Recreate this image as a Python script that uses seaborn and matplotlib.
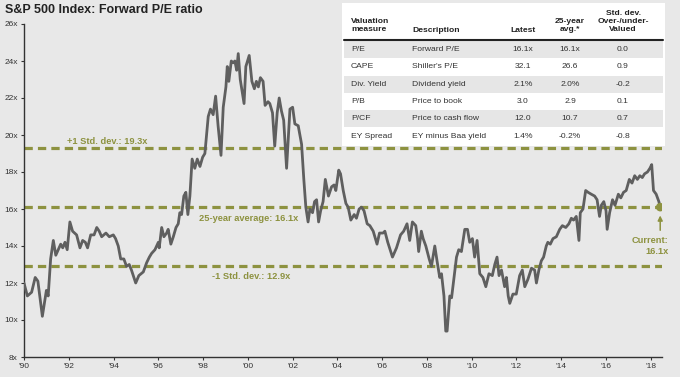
import matplotlib
matplotlib.use('Agg')
import matplotlib.pyplot as plt
import pandas as pd
import seaborn as sns
from matplotlib.patches import Rectangle

# ---------------- data ----------------
years = [1990.00, 1990.15, 1990.34, 1990.50, 1990.62, 1990.82, 1991.00, 1991.08, 1991.19, 1991.31,
         1991.42, 1991.53, 1991.64, 1991.73, 1991.83, 1991.93, 1992.05, 1992.17, 1992.35, 1992.50,
         1992.62, 1992.74, 1992.84, 1992.98, 1993.13, 1993.25, 1993.36, 1993.47, 1993.66, 1993.81,
         1993.99, 1994.09, 1994.21, 1994.32, 1994.46, 1994.58, 1994.70, 1994.80, 1994.99, 1995.13,
         1995.33, 1995.48, 1995.60, 1995.70, 1995.85, 1996.00, 1996.04, 1996.15, 1996.25, 1996.37,
         1996.44, 1996.56, 1996.67, 1996.79, 1996.89, 1996.96, 1997.04, 1997.14, 1997.23, 1997.32,
         1997.41, 1997.51, 1997.63, 1997.74, 1997.86, 1997.98, 1998.08, 1998.23, 1998.33, 1998.45,
         1998.56, 1998.67, 1998.80, 1998.90, 1999.02, 1999.08, 1999.15, 1999.26, 1999.34, 1999.42,
         1999.50, 1999.57, 1999.66, 1999.83, 1999.91, 2000.06, 2000.18, 2000.29, 2000.38, 2000.47,
         2000.56, 2000.68, 2000.77, 2000.90, 2000.98, 2001.10, 2001.20, 2001.31, 2001.40, 2001.50,
         2001.60, 2001.73, 2001.80, 2001.88, 2002.00, 2002.10, 2002.25, 2002.40, 2002.50, 2002.59,
         2002.69, 2002.77, 2002.89, 2002.98, 2003.07, 2003.16, 2003.25, 2003.36, 2003.46, 2003.60,
         2003.74, 2003.85, 2003.93, 2004.06, 2004.14, 2004.26, 2004.38, 2004.48, 2004.60, 2004.75,
         2004.85, 2004.97, 2005.08, 2005.19, 2005.33, 2005.45, 2005.60, 2005.77, 2005.88, 2006.04,
         2006.12, 2006.25, 2006.46, 2006.64, 2006.82, 2006.96, 2007.11, 2007.23, 2007.35, 2007.50,
         2007.58, 2007.63, 2007.75, 2007.83, 2007.95, 2008.10, 2008.20, 2008.35, 2008.45, 2008.57,
         2008.65, 2008.76, 2008.84, 2008.90, 2009.02, 2009.10, 2009.20, 2009.32, 2009.42, 2009.54,
         2009.69, 2009.81, 2009.91, 2010.03, 2010.13, 2010.24, 2010.36, 2010.50, 2010.63, 2010.77,
         2010.92, 2011.03, 2011.13, 2011.22, 2011.33, 2011.47, 2011.55, 2011.63, 2011.70, 2011.84,
         2011.99, 2012.14, 2012.26, 2012.37, 2012.51, 2012.67, 2012.81, 2012.89, 2013.00, 2013.11,
         2013.21, 2013.33, 2013.40, 2013.51, 2013.63, 2013.78, 2013.93, 2014.05, 2014.20, 2014.34,
         2014.45, 2014.55, 2014.67, 2014.79, 2014.85, 2014.97, 2015.09, 2015.20, 2015.34, 2015.49,
         2015.60, 2015.71, 2015.79, 2015.90, 2016.00, 2016.05, 2016.16, 2016.29, 2016.40, 2016.55,
         2016.66, 2016.78, 2016.90, 2017.04, 2017.16, 2017.28, 2017.40, 2017.51, 2017.62, 2017.72,
         2017.85, 2017.96, 2018.04, 2018.12, 2018.24, 2018.36, 2018.42]
pe = [12.0, 11.3, 11.5, 12.3, 12.1, 10.2, 11.6, 11.3, 13.3, 14.3,
      13.5, 13.8, 14.1, 13.9, 14.2, 13.8, 15.3, 14.8, 14.6, 13.9,
      14.3, 14.2, 13.9, 14.6, 14.6, 15.0, 14.8, 14.5, 14.7, 14.5,
      14.6, 14.4, 14.0, 13.3, 13.3, 12.9, 13.0, 12.7, 12.0, 12.4,
      12.6, 13.1, 13.4, 13.6, 13.8, 14.2, 13.9, 15.0, 14.5, 14.7,
      14.9, 14.1, 14.5, 15.0, 15.2, 15.8, 15.7, 16.7, 16.9, 15.7,
      16.7, 18.7, 18.2, 18.7, 18.3, 18.8, 19.0, 21.0, 21.4, 21.1,
      22.1, 20.5, 18.9, 21.5, 22.6, 23.7, 22.9, 24.0, 23.9, 24.0,
      23.5, 24.4, 23.0, 21.7, 23.7, 24.3, 22.9, 22.5, 22.9, 22.6,
      23.1, 22.9, 21.6, 21.8, 21.7, 21.2, 19.4, 21.2, 22.0, 21.3,
      20.8, 18.2, 19.7, 21.4, 21.5, 20.6, 20.5, 19.5, 17.6, 16.1,
      15.3, 16.0, 15.8, 16.4, 16.5, 15.3, 15.9, 16.4, 17.6, 16.7,
      17.2, 17.3, 17.0, 18.1, 17.9, 17.0, 16.3, 16.1, 15.4, 15.7,
      15.5, 16.0, 16.1, 15.9, 15.2, 15.1, 14.8, 14.1, 14.7, 14.7,
      14.8, 14.2, 13.4, 13.9, 14.6, 14.8, 15.2, 14.3, 15.3, 15.1,
      14.4, 13.7, 14.8, 14.4, 14.0, 13.3, 12.9, 14.0, 13.2, 12.3,
      12.5, 11.3, 9.4, 9.4, 11.3, 11.2, 12.2, 13.4, 13.8, 13.7,
      14.9, 14.9, 14.2, 14.4, 13.4, 14.3, 12.5, 12.3, 11.8, 12.5,
      12.4, 13.0, 13.4, 12.4, 12.7, 11.8, 12.3, 11.3, 10.9, 11.4,
      11.4, 12.4, 12.7, 11.8, 12.2, 12.8, 12.7, 12.0, 12.7, 13.2,
      13.4, 14.0, 14.2, 14.1, 14.4, 14.5, 14.9, 15.1, 15.0, 15.2,
      15.5, 15.4, 15.6, 14.3, 15.8, 16.0, 17.0, 16.9, 16.8, 16.7,
      16.5, 15.6, 16.2, 16.4, 15.9, 14.9, 15.8, 16.5, 16.2, 16.8,
      16.6, 16.9, 17.0, 17.6, 17.4, 17.8, 17.6, 17.8, 17.7, 17.9,
      18.0, 18.2, 18.4, 17.0, 16.8, 16.4, 16.1]

avg_pe = 16.1
plus_sd = 19.3
minus_sd = 12.9
current_pe = 16.1

xtick_years = list(range(1990, 2019, 2))
xtick_labels = ["'90", "'92", "'94", "'96", "'98", "'00", "'02", "'04", "'06", "'08",
                "'10", "'12", "'14", "'16", "'18"]
ytick_vals = list(range(8, 27, 2))
ytick_labels = [f"{v}x" for v in ytick_vals]

title = "S&P 500 Index: Forward P/E ratio"
label_plus = "+1 Std. dev.: 19.3x"
label_avg = "25-year average: 16.1x"
label_minus = "-1 Std. dev.: 12.9x"
label_current = "Current:\n16.1x"

tbl_measure = ["P/E", "CAPE", "Div. Yield", "P/B", "P/CF", "EY Spread"]
tbl_desc = ["Forward P/E", "Shiller's P/E", "Dividend yield", "Price to book",
            "Price to cash flow", "EY minus Baa yield"]
tbl_latest = ["16.1x", "32.1", "2.1%", "3.0", "12.0", "1.4%"]
tbl_avg = ["16.1x", "26.6", "2.0%", "2.9", "10.7", "-0.2%"]
tbl_sd = ["0.0", "0.9", "-0.2", "0.1", "0.7", "-0.8"]

# ---------------- style ----------------
BG = '#e8e8e8'
LINE = '#5f5f5f'
OLIVE = '#8d9240'
TXT = '#333333'

sns.set_style('ticks', {'axes.facecolor': BG, 'figure.facecolor': BG,
                        'axes.edgecolor': '#333333'})
plt.rcParams['font.family'] = ['Liberation Sans', 'DejaVu Sans']

fig = plt.figure(figsize=(6.8, 3.77), dpi=100)
fig.patch.set_facecolor(BG)
ax = fig.add_axes([24 / 680, 20 / 377, 638 / 680, 333 / 377])
ax.set_facecolor(BG)

df = pd.DataFrame({'year': years, 'pe': pe})

dash = (0, (2.6, 1.6))
for v in (plus_sd, avg_pe, minus_sd):
    ax.axhline(v, color=OLIVE, lw=2.3, linestyle=dash, zorder=1)

sns.lineplot(data=df, x='year', y='pe', ax=ax, color=LINE, linewidth=2.0, zorder=3)

ax.scatter([years[-1]], [current_pe], s=38, color=OLIVE, zorder=4, edgecolor='none')
ax.annotate('', xy=(years[-1], current_pe - 0.45), xytext=(years[-1], current_pe - 1.25),
            arrowprops=dict(arrowstyle='-|>', color=OLIVE, lw=1.1, mutation_scale=7,
                            shrinkA=0, shrinkB=0), zorder=4)
ax.text(2018.78, 14.0, label_current, ha='right', va='center', color=OLIVE,
        fontsize=6.7, fontweight='bold', linespacing=1.2, clip_on=False)

ax.text(1993.7, 19.64, label_plus, ha='center', va='center', color=OLIVE,
        fontsize=6.7, fontweight='bold')
ax.text(2000.05, 15.48, label_avg, ha='center', va='center', color=OLIVE,
        fontsize=6.7, fontweight='bold')
ax.text(2000.15, 12.34, label_minus, ha='center', va='center', color=OLIVE,
        fontsize=6.7, fontweight='bold')

ax.set_xlim(1990, 2018.5)
ax.set_ylim(8, 26)
ax.set_xticks(xtick_years)
ax.set_xticklabels(xtick_labels)
ax.set_yticks(ytick_vals)
ax.set_yticklabels(ytick_labels)
ax.set_xlabel('')
ax.set_ylabel('')
ax.tick_params(axis='both', labelsize=6, colors='#333333', length=2.5, width=0.8, pad=2)
for s in ('top', 'right'):
    ax.spines[s].set_visible(False)
for s in ('left', 'bottom'):
    ax.spines[s].set_linewidth(1.0)
    ax.spines[s].set_color('#333333')

fig.text(5 / 680, 1 - 10 / 377, title, ha='left', va='center', fontsize=9,
         fontweight='bold', color='#222222')

# ---------------- table (figure pixel coordinates) ----------------
ov = fig.add_axes([0, 0, 1, 1], zorder=10)
ov.set_xlim(0, 680)
ov.set_ylim(377, 0)
ov.axis('off')
ov.patch.set_alpha(0)

ov.add_patch(Rectangle((342, 3), 323, 143, facecolor='white', edgecolor='none'))
row_top = 41.0
row_h = 17.3
for i in range(len(tbl_measure)):
    y0 = row_top + i * row_h
    if i % 2 == 0:
        ov.add_patch(Rectangle((344, y0), 319, row_h, facecolor='#e6e6e6', edgecolor='none'))
    yc = y0 + row_h / 2
    kw = dict(va='center', fontsize=6.1, color=TXT)
    ov.text(351, yc, tbl_measure[i], ha='left', **kw)
    ov.text(412, yc, tbl_desc[i], ha='left', **kw)
    ov.text(523, yc, tbl_latest[i], ha='center', **kw)
    ov.text(570, yc, tbl_avg[i], ha='center', **kw)
    ov.text(623, yc, tbl_sd[i], ha='center', **kw)

ov.plot([344, 663], [39.8, 39.8], color='#222222', lw=1.5)
hk = dict(fontsize=6.1, fontweight='bold', color='#222222', va='center', linespacing=1.25)
ov.text(351, 25.5, "Valuation\nmeasure", ha='left', **hk)
ov.text(412, 30, "Description", ha='left', **hk)
ov.text(523, 30.5, "Latest", ha='center', **hk)
ov.text(570, 25.5, "25-year\navg.*", ha='center', ma='center', **hk)
ov.text(623, 21.5, "Std. dev.\nOver-/under-\nValued", ha='center', ma='center', **hk)

fig.savefig('out.png', dpi=100, facecolor=BG)
